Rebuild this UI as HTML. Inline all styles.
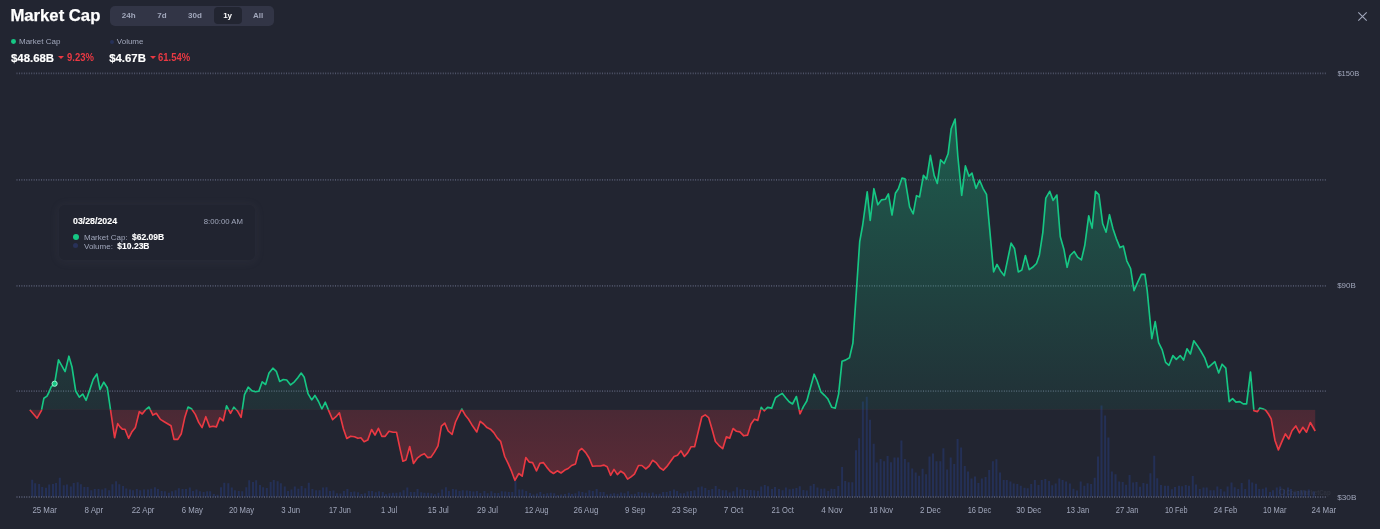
<!DOCTYPE html>
<html><head><meta charset="utf-8"><title>Market Cap</title>
<style>
*{box-sizing:border-box;margin:0;padding:0}
html,body{width:1380px;height:529px;overflow:hidden;background:#222531;}
body{position:relative;font-family:"Liberation Sans",Arial,sans-serif;color:#fff;}
.chart{position:absolute;left:0;top:0;}
.chart text{font-family:"Liberation Sans",Arial,sans-serif;}
.title{position:absolute;left:10.4px;top:5.5px;-webkit-text-stroke:0.25px #fff;font-size:16.7px;font-weight:700;line-height:20px;color:#fff;letter-spacing:0;}
.tabs{position:absolute;left:110px;top:5.5px;width:164px;height:20.5px;background:#323546;border-radius:5px;}
.tab{position:absolute;top:0;height:20.5px;line-height:20.5px;font-size:8px;font-weight:700;color:#a1a7bb;text-align:center;transform:translateX(-50%);}
.tab.on{background:#222531;color:#fff;width:28px;height:17px;line-height:17px;top:1.6px;border-radius:4px;}
.close{position:absolute;left:1357px;top:11px;width:11px;height:11px;}
.leg{position:absolute;font-size:8px;color:#a1a7bb;line-height:10px;}
.dot{position:absolute;width:5px;height:5px;border-radius:50%;}
.val{position:absolute;font-size:11.4px;font-weight:700;color:#fff;-webkit-text-stroke:0.15px #fff;line-height:14px;transform-origin:0 50%;}
.pct{position:absolute;font-size:10.2px;font-weight:700;color:#ea3943;line-height:12px;transform-origin:0 50%;transform:scaleX(0.93);}
.tri{position:absolute;width:0;height:0;border-left:3.1px solid transparent;border-right:3.1px solid transparent;border-top:3.4px solid #ea3943;}
.tip{position:absolute;left:59px;top:205px;width:196px;height:55px;border-radius:6px;background:#212430;box-shadow:0 1px 10px 2px rgba(128,138,157,0.065);}
.tip .d{position:absolute;left:14px;top:10px;font-size:8.8px;font-weight:700;color:#fff;line-height:12px;-webkit-text-stroke:0.12px #fff;}
.tip .t{position:absolute;right:12px;top:11px;font-size:7.75px;color:#a1a7bb;line-height:11px;}
.tip .r{position:absolute;left:25px;font-size:8px;color:#a1a7bb;line-height:10px;white-space:nowrap;}
.tip .r b{color:#fff;font-size:8.5px;-webkit-text-stroke:0.12px #fff;}
</style></head><body>
<svg class="chart" width="1380" height="529" viewBox="0 0 1380 529">
<defs>
<linearGradient id="gg" gradientUnits="userSpaceOnUse" x1="0" y1="119" x2="0" y2="409.7">
<stop offset="0" stop-color="#16c784" stop-opacity="0.34"/>
<stop offset="1" stop-color="#16c784" stop-opacity="0.07"/>
</linearGradient>
<linearGradient id="rg" gradientUnits="userSpaceOnUse" x1="0" y1="409.7" x2="0" y2="481">
<stop offset="0" stop-color="#ea3943" stop-opacity="0.2"/>
<stop offset="1" stop-color="#ea3943" stop-opacity="0.29"/>
</linearGradient>
<clipPath id="up"><rect x="0" y="0" width="1380" height="409.7"/></clipPath>
<clipPath id="dn"><rect x="0" y="409.7" width="1380" height="119.30000000000001"/></clipPath>
</defs>
<path d="M31.19,497V479.8h2V497zM34.16,497V483.2h2V497zM38.12,497V483.9h2V497zM41.19,497V487.1h2V497zM45.01,497V487.8h2V497zM48.17,497V484.5h2V497zM51.98,497V483.9h2V497zM55.04,497V483.1h2V497zM58.83,497V477.7h2V497zM62.74,497V485.2h2V497zM65.96,497V484.5h2V497zM69.87,497V486.5h2V497zM72.74,497V482.9h2V497zM76.65,497V482.2h2V497zM79.87,497V484.3h2V497zM83.35,497V487.1h2V497zM86.65,497V487.1h2V497zM90.30,497V490.3h2V497zM93.78,497V489.0h2V497zM97.52,497V489.0h2V497zM101.17,497V489.6h2V497zM104.39,497V488.3h2V497zM108.13,497V490.3h2V497zM111.43,497V484.3h2V497zM115.09,497V481.3h2V497zM118.30,497V484.3h2V497zM122.04,497V485.9h2V497zM125.26,497V488.4h2V497zM129.00,497V489.6h2V497zM132.04,497V490.3h2V497zM135.85,497V489.0h2V497zM139.22,497V490.3h2V497zM143.04,497V489.4h2V497zM146.99,497V489.4h2V497zM150.23,497V488.8h2V497zM153.94,497V487.2h2V497zM156.96,497V489.1h2V497zM160.67,497V490.9h2V497zM163.91,497V491.2h2V497zM167.86,497V492.8h2V497zM171.10,497V491.2h2V497zM174.58,497V490.3h2V497zM177.83,497V488.3h2V497zM181.54,497V489.1h2V497zM185.01,497V489.1h2V497zM188.84,497V487.4h2V497zM191.97,497V490.9h2V497zM195.45,497V489.4h2V497zM198.93,497V491.2h2V497zM202.64,497V492.0h2V497zM206.12,497V491.2h2V497zM209.13,497V491.2h2V497zM212.84,497V494.1h2V497zM216.55,497V494.7h2V497zM220.03,497V487.2h2V497zM223.28,497V482.8h2V497zM227.33,497V483.3h2V497zM230.81,497V487.4h2V497zM233.94,497V490.3h2V497zM237.77,497V490.9h2V497zM241.25,497V491.2h2V497zM245.30,497V487.2h2V497zM248.20,497V480.2h2V497zM252.03,497V481.9h2V497zM255.16,497V480.2h2V497zM258.99,497V485.1h2V497zM262.12,497V487.2h2V497zM265.83,497V488.0h2V497zM269.65,497V481.9h2V497zM272.78,497V479.9h2V497zM276.61,497V481.2h2V497zM279.86,497V483.3h2V497zM283.80,497V486.6h2V497zM287.04,497V490.9h2V497zM290.46,497V489.4h2V497zM293.82,497V486.6h2V497zM297.35,497V488.8h2V497zM300.59,497V485.9h2V497zM304.30,497V488.2h2V497zM307.78,497V482.8h2V497zM311.38,497V489.1h2V497zM315.09,497V490.3h2V497zM318.57,497V490.3h2V497zM322.04,497V487.6h2V497zM325.52,497V487.2h2V497zM329.00,497V490.9h2V497zM332.48,497V490.5h2V497zM335.96,497V493.2h2V497zM339.43,497V493.5h2V497zM342.91,497V490.9h2V497zM346.39,497V489.1h2V497zM350.10,497V492.0h2V497zM353.35,497V491.4h2V497zM357.06,497V492.3h2V497zM360.54,497V494.1h2V497zM364.01,497V493.2h2V497zM367.84,497V490.9h2V497zM371.09,497V490.9h2V497zM374.80,497V492.3h2V497zM378.04,497V491.2h2V497zM381.75,497V492.0h2V497zM385.00,497V494.3h2V497zM388.48,497V493.2h2V497zM391.96,497V492.8h2V497zM395.43,497V492.8h2V497zM399.14,497V492.3h2V497zM402.62,497V490.3h2V497zM406.33,497V487.6h2V497zM409.81,497V492.0h2V497zM413.29,497V492.0h2V497zM416.54,497V489.1h2V497zM420.25,497V492.3h2V497zM423.49,497V492.8h2V497zM426.97,497V492.8h2V497zM430.45,497V493.2h2V497zM433.93,497V494.3h2V497zM437.41,497V492.8h2V497zM441.12,497V489.5h2V497zM444.93,497V487.3h2V497zM447.95,497V490.9h2V497zM451.88,497V489.1h2V497zM455.01,497V489.5h2V497zM458.49,497V490.9h2V497zM461.74,497V490.3h2V497zM465.80,497V490.6h2V497zM468.93,497V491.1h2V497zM472.41,497V491.4h2V497zM475.88,497V490.9h2V497zM479.36,497V493.0h2V497zM483.42,497V491.1h2V497zM486.67,497V493.2h2V497zM490.38,497V491.2h2V497zM493.86,497V493.0h2V497zM497.33,497V493.0h2V497zM500.81,497V491.2h2V497zM504.29,497V491.4h2V497zM507.77,497V492.0h2V497zM511.25,497V492.0h2V497zM514.49,497V481.0h2V497zM518.20,497V489.5h2V497zM521.45,497V489.4h2V497zM525.16,497V490.9h2V497zM528.99,497V493.0h2V497zM532.35,497V494.6h2V497zM535.94,497V493.5h2V497zM539.30,497V492.0h2V497zM542.78,497V494.1h2V497zM546.26,497V493.2h2V497zM549.74,497V492.8h2V497zM553.22,497V493.2h2V497zM556.70,497V494.9h2V497zM560.17,497V494.6h2V497zM564.00,497V494.1h2V497zM567.83,497V492.8h2V497zM570.96,497V494.1h2V497zM574.43,497V493.2h2V497zM577.91,497V491.2h2V497zM581.39,497V492.0h2V497zM584.87,497V492.8h2V497zM588.35,497V490.3h2V497zM591.83,497V490.9h2V497zM595.65,497V489.1h2V497zM599.36,497V492.0h2V497zM602.66,497V492.0h2V497zM605.96,497V494.6h2V497zM609.67,497V493.8h2V497zM613.14,497V493.2h2V497zM616.62,497V493.8h2V497zM620.10,497V492.6h2V497zM623.58,497V493.2h2V497zM627.06,497V491.2h2V497zM630.54,497V494.3h2V497zM634.01,497V493.8h2V497zM637.49,497V492.0h2V497zM640.97,497V492.6h2V497zM644.45,497V492.6h2V497zM647.93,497V493.2h2V497zM651.75,497V492.6h2V497zM655.23,497V494.3h2V497zM658.71,497V493.8h2V497zM662.19,497V492.0h2V497zM665.67,497V492.0h2V497zM669.14,497V491.1h2V497zM672.97,497V489.5h2V497zM676.10,497V491.1h2V497zM679.58,497V493.2h2V497zM683.06,497V493.2h2V497zM686.54,497V491.4h2V497zM690.01,497V490.9h2V497zM693.49,497V490.3h2V497zM697.32,497V487.2h2V497zM700.80,497V486.6h2V497zM704.28,497V488.0h2V497zM707.75,497V490.1h2V497zM711.23,497V488.9h2V497zM714.71,497V485.9h2V497zM718.19,497V488.9h2V497zM721.67,497V490.3h2V497zM725.14,497V490.3h2V497zM728.62,497V492.6h2V497zM732.33,497V491.2h2V497zM736.04,497V487.2h2V497zM739.52,497V489.5h2V497zM743.00,497V489.1h2V497zM746.25,497V490.1h2V497zM749.72,497V490.1h2V497zM753.20,497V490.3h2V497zM756.96,497V490.7h2V497zM760.20,497V486.5h2V497zM763.80,497V485.0h2V497zM767.00,497V486.3h2V497zM771.00,497V489.0h2V497zM774.00,497V487.0h2V497zM778.00,497V489.1h2V497zM781.60,497V490.2h2V497zM784.90,497V487.4h2V497zM788.60,497V489.3h2V497zM792.00,497V488.7h2V497zM795.40,497V488.1h2V497zM798.80,497V486.3h2V497zM802.40,497V490.1h2V497zM805.80,497V490.6h2V497zM809.60,497V485.7h2V497zM812.80,497V484.0h2V497zM816.40,497V487.4h2V497zM820.20,497V488.7h2V497zM823.40,497V488.4h2V497zM827.20,497V491.0h2V497zM830.40,497V488.7h2V497zM833.40,497V489.1h2V497zM837.30,497V486.1h2V497zM841.10,497V467.0h2V497zM844.20,497V481.0h2V497zM847.70,497V482.2h2V497zM851.30,497V482.2h2V497zM855.00,497V450.3h2V497zM858.10,497V438.3h2V497zM861.90,497V401.4h2V497zM865.80,497V396.7h2V497zM869.00,497V419.8h2V497zM872.70,497V443.7h2V497zM875.80,497V462.4h2V497zM879.60,497V459.1h2V497zM883.10,497V461.2h2V497zM886.60,497V456.0h2V497zM890.00,497V462.2h2V497zM893.50,497V457.6h2V497zM897.00,497V457.6h2V497zM900.40,497V440.4h2V497zM903.90,497V459.1h2V497zM907.40,497V462.2h2V497zM911.20,497V468.4h2V497zM914.70,497V472.6h2V497zM918.10,497V475.7h2V497zM921.60,497V468.7h2V497zM925.10,497V474.3h2V497zM928.50,497V456.6h2V497zM932.00,497V453.5h2V497zM935.50,497V461.2h2V497zM939.30,497V461.2h2V497zM942.40,497V448.3h2V497zM946.10,497V469.5h2V497zM949.70,497V457.6h2V497zM953.20,497V463.9h2V497zM956.60,497V438.9h2V497zM960.10,497V447.6h2V497zM963.80,497V465.9h2V497zM967.00,497V471.6h2V497zM970.50,497V478.4h2V497zM974.00,497V476.4h2V497zM977.40,497V483.0h2V497zM980.90,497V478.4h2V497zM984.60,497V477.0h2V497zM988.20,497V470.1h2V497zM991.90,497V461.2h2V497zM995.40,497V459.3h2V497zM999.00,497V472.6h2V497zM1002.70,497V479.9h2V497zM1005.80,497V479.9h2V497zM1009.40,497V481.6h2V497zM1012.70,497V483.6h2V497zM1016.30,497V484.0h2V497zM1019.80,497V485.7h2V497zM1023.50,497V487.8h2V497zM1026.70,497V488.2h2V497zM1030.20,497V484.0h2V497zM1033.90,497V479.9h2V497zM1037.50,497V485.1h2V497zM1040.80,497V480.1h2V497zM1044.30,497V479.1h2V497zM1048.10,497V481.1h2V497zM1051.20,497V485.3h2V497zM1054.70,497V483.6h2V497zM1058.30,497V478.4h2V497zM1061.60,497V480.1h2V497zM1065.10,497V481.6h2V497zM1068.90,497V483.6h2V497zM1072.40,497V488.8h2V497zM1076.00,497V490.5h2V497zM1079.70,497V481.6h2V497zM1083.30,497V485.7h2V497zM1086.60,497V483.2h2V497zM1090.10,497V484.0h2V497zM1093.70,497V477.8h2V497zM1097.00,497V456.6h2V497zM1100.50,497V405.6h2V497zM1104.10,497V415.4h2V497zM1107.40,497V437.4h2V497zM1110.90,497V471.6h2V497zM1114.50,497V474.3h2V497zM1118.20,497V481.6h2V497zM1121.70,497V482.0h2V497zM1125.10,497V484.7h2V497zM1128.60,497V474.9h2V497zM1132.10,497V482.6h2V497zM1135.50,497V482.0h2V497zM1139.00,497V486.8h2V497zM1142.40,497V483.1h2V497zM1146.00,497V483.8h2V497zM1149.40,497V473.2h2V497zM1153.20,497V455.8h2V497zM1156.20,497V478.2h2V497zM1160.00,497V485.0h2V497zM1164.00,497V485.7h2V497zM1167.10,497V485.7h2V497zM1170.90,497V489.3h2V497zM1174.00,497V487.0h2V497zM1178.00,497V485.7h2V497zM1181.10,497V486.3h2V497zM1184.80,497V485.0h2V497zM1188.00,497V485.7h2V497zM1191.80,497V476.0h2V497zM1195.00,497V484.4h2V497zM1198.80,497V489.0h2V497zM1202.50,497V487.4h2V497zM1205.70,497V487.4h2V497zM1209.50,497V490.3h2V497zM1212.80,497V490.3h2V497zM1216.30,497V486.5h2V497zM1219.80,497V489.0h2V497zM1223.30,497V491.4h2V497zM1226.60,497V486.5h2V497zM1230.50,497V482.5h2V497zM1233.70,497V487.2h2V497zM1237.20,497V489.1h2V497zM1240.70,497V483.1h2V497zM1244.20,497V489.1h2V497zM1248.10,497V479.5h2V497zM1251.20,497V482.5h2V497zM1255.00,497V483.8h2V497zM1258.20,497V489.0h2V497zM1261.80,497V488.7h2V497zM1265.00,497V487.6h2V497zM1269.00,497V492.1h2V497zM1272.00,497V490.3h2V497zM1275.80,497V487.6h2V497zM1279.20,497V486.5h2V497zM1283.00,497V489.5h2V497zM1287.00,497V487.6h2V497zM1290.00,497V489.0h2V497zM1293.80,497V491.8h2V497zM1297.20,497V491.0h2V497zM1300.60,497V490.3h2V497zM1304.00,497V490.6h2V497zM1307.80,497V489.5h2V497zM1312.80,497V491.4h2V497z" fill="#243056"/>
<g class="grid" stroke="#50556a" stroke-width="1.8" stroke-dasharray="1 1.45"><line x1="16.5" y1="73.4" x2="1327" y2="73.4"/><line x1="16.5" y1="179.8" x2="1327" y2="179.8"/><line x1="16.5" y1="285.8" x2="1327" y2="285.8"/><line x1="16.5" y1="391.2" x2="1327" y2="391.2"/><line x1="16.5" y1="497" x2="1327" y2="497"/></g>
<path d="M29.8,409.7 L29.8,409.7 L37.1,418.2 L41.4,410.7 L43.9,398.2 L47,396.1 L49.1,392 L51.2,386.8 L54.6,383.7 L58.5,359.8 L65.1,371.6 L68.9,356.2 L72,367 L75.7,391 L79.3,397.2 L82.8,394.1 L86.1,400.3 L89.7,390 L93.2,379.5 L96.9,373.9 L100,389.5 L103.8,382.2 L107.3,387.8 L110.5,409.7 L114.6,437.7 L117.7,423.6 L120,426.9 L122.3,429.2 L125,429.2 L128.6,438.3 L131.8,432.1 L135.4,427.4 L139.3,411.7 L142.2,414 L145.4,409.9 L149,407 L152.9,415.1 L156.3,413.3 L160.4,419.4 L164.2,421.7 L171,425.8 L174,439.4 L177.8,439.4 L181.3,433.7 L184.7,417.8 L188.1,407 L191.5,408.8 L195.3,414.4 L198.7,422.4 L202.1,427.6 L205.8,416.7 L209.6,426.9 L213,426.2 L216.4,426.9 L219.8,417.8 L223.2,420.8 L226.6,405.8 L230.5,413.3 L233.9,407.2 L237.7,411.3 L241.1,417.4 L244.5,394.7 L248.2,387.2 L252,390.8 L255.4,391.8 L258.8,391.3 L262.2,381.8 L265.6,384.5 L269,373.1 L272.9,368.2 L276.3,371.3 L279.7,381.5 L283.3,379.5 L286.7,380 L290.6,384.9 L294.4,381.8 L297.8,377.7 L301.2,373.1 L304.2,377.2 L308,393.6 L311.7,399.9 L314.9,395.4 L318.5,401.5 L321.9,409 L325.3,402.2 L328.7,410.6 L332.6,419.7 L336,416.7 L339.4,412.8 L343.4,428.7 L346.8,438.5 L350.7,436.2 L354.5,436.7 L357.9,438.3 L360.9,437.8 L364.1,441.7 L367.7,440.1 L371.6,429.5 L375,435.1 L378.4,428.3 L381.8,436.3 L385.2,436.3 L389,431.3 L393.1,432.2 L396.5,432.2 L399.9,448.1 L402.9,461.2 L406,459.9 L409.7,446.5 L413.5,463.5 L417.6,457.8 L421.5,454.9 L424.4,453.7 L427.6,457.6 L431,457.1 L434.4,452.1 L438,445.8 L441.4,426.1 L444.8,423.1 L448.2,431 L452.1,434.4 L455.5,422 L461.8,409 L465.7,415.8 L468.4,419 L471.8,424.7 L476.8,432 L480.2,421.3 L483.6,424 L487,427.6 L490.4,429.2 L493.8,432.6 L497.2,437.9 L500.6,441.3 L504.7,456.5 L508.1,463.3 L511.5,471.2 L514.9,480.3 L518.8,473.5 L522.2,476.2 L525.8,457.6 L529.2,462.1 L532.6,462.6 L536.5,470.8 L539.9,463.3 L543.3,462.6 L546.7,467.1 L550.1,471.2 L553.5,473.5 L557.3,470.8 L561,473 L564.8,470.1 L568.2,468.5 L571.6,465.5 L575.5,463.9 L578.9,450.8 L581.8,448.5 L585.7,452.6 L589.1,458 L592.5,466.2 L596.3,466 L600.4,466 L603.8,465.1 L607.2,466.7 L610.6,475.3 L614,469.4 L617.4,474.6 L620.8,471.2 L624.2,473.5 L627.6,479.1 L631,476.9 L634.4,474.2 L638.5,465.5 L641.9,465.5 L645.8,468.9 L649.2,466 L652.6,460.3 L656,462.6 L659.9,467.8 L663.3,470.1 L666.7,466.7 L670.3,461.7 L674.1,456.5 L677.5,455.3 L681,450.8 L684.4,456.5 L687.8,452.6 L691.2,446.7 L694.6,446.7 L701.8,417 L705.2,414.9 L708.6,417.6 L712,429 L715.4,441.5 L718.8,445.3 L722.7,448.7 L726.3,436.9 L729.7,438.1 L733.1,428.5 L736.5,431.3 L739.9,431.9 L743.8,435.8 L747.6,435.1 L751,424 L754.4,419.2 L757.8,420.4 L761.2,407.4 L764.2,410.8 L767.6,407.4 L771.7,408.1 L775.5,397.7 L778.9,395.4 L782.3,393.4 L785.7,397.7 L789.1,401.8 L792.5,404 L796.4,396.5 L800,413.8 L803.4,406.6 L806.8,401 L810.2,388.5 L814.1,374.2 L817,380.5 L820.9,391.9 L824.5,395.3 L827.7,398.7 L831.8,407.3 L835.2,408.2 L838.6,394.1 L842,361.3 L845.4,360.1 L849.5,357.8 L852.9,343.1 L859.7,241.7 L862.7,225 L867.2,191.8 L870.2,220.5 L873.9,188.7 L877.8,204.8 L881.4,199.9 L885.4,199.3 L888.4,193.9 L892,215 L895.4,193.3 L898.4,188.7 L902,178.1 L905,178.8 L909.6,206.9 L913.2,213.8 L916.5,195.7 L919.6,196.9 L923.4,175.4 L926.7,179.1 L930.4,155.4 L934.2,175.6 L937.3,183.4 L940.6,159.9 L944.2,163.5 L948.1,153.8 L951.2,128.7 L955.1,119.1 L957.8,156 L961.7,195.3 L965.4,165.9 L969,176.2 L972,173.2 L976,188.3 L979.6,180.2 L983,188.3 L986.5,194.4 L993.6,271.9 L997,264.4 L1000.4,270.7 L1004.3,275.7 L1007.7,259.4 L1011.1,243.1 L1014.5,248.5 L1018.3,271.9 L1021.8,270.1 L1025.4,255.5 L1029.2,269.6 L1032.6,267.3 L1036.5,263.5 L1039.4,254.9 L1042.8,232.6 L1045.8,198.1 L1049.7,191.3 L1053.1,200.4 L1056.9,195 L1060.3,236.7 L1063.9,249.2 L1067.1,267.3 L1070.1,255.5 L1074.2,251.5 L1077.6,257.1 L1081.4,259.9 L1084.8,245.3 L1088.7,215.8 L1092.1,228.1 L1095.5,191.3 L1098.9,194.7 L1102.7,223.8 L1106.1,232.2 L1109.5,214.7 L1112.9,228.4 L1116.3,238.6 L1120,247.6 L1123.4,246.1 L1126.8,260.8 L1130.6,268.5 L1134,290.7 L1137.4,282.8 L1141.5,274.2 L1144.9,274.4 L1147.2,290.7 L1151.8,338.6 L1155.2,321.6 L1158.6,342.6 L1162.2,349.9 L1165.6,362.4 L1169,365.3 L1172.9,355.6 L1176.3,359.4 L1180.2,355.6 L1183.6,360.1 L1187,348.8 L1190.4,354 L1193.8,340.8 L1197.2,345.4 L1200.8,351 L1204.7,357.8 L1208.1,367.6 L1211.5,364.7 L1214.9,361.7 L1218.7,373 L1222.1,364.2 L1225.8,368.1 L1229.2,401.6 L1232.6,398.7 L1236,402.1 L1239.8,401.6 L1243.2,403.9 L1246.6,403.9 L1250.5,372.1 L1253.9,410.7 L1257.5,411.6 L1259.8,408 L1262.7,408.7 L1265.5,409.9 L1268.4,414 L1271.2,418.8 L1275,440.5 L1278.4,449.9 L1282,441.4 L1285.4,433.9 L1288.8,439 L1292,430.7 L1295.8,425.9 L1299.5,432.9 L1302.9,427.3 L1306.5,432.2 L1310.3,422.5 L1315.2,431 L1315.2,409.7 Z" fill="url(#gg)" clip-path="url(#up)"/>
<path d="M29.8,409.7 L29.8,409.7 L37.1,418.2 L41.4,410.7 L43.9,398.2 L47,396.1 L49.1,392 L51.2,386.8 L54.6,383.7 L58.5,359.8 L65.1,371.6 L68.9,356.2 L72,367 L75.7,391 L79.3,397.2 L82.8,394.1 L86.1,400.3 L89.7,390 L93.2,379.5 L96.9,373.9 L100,389.5 L103.8,382.2 L107.3,387.8 L110.5,409.7 L114.6,437.7 L117.7,423.6 L120,426.9 L122.3,429.2 L125,429.2 L128.6,438.3 L131.8,432.1 L135.4,427.4 L139.3,411.7 L142.2,414 L145.4,409.9 L149,407 L152.9,415.1 L156.3,413.3 L160.4,419.4 L164.2,421.7 L171,425.8 L174,439.4 L177.8,439.4 L181.3,433.7 L184.7,417.8 L188.1,407 L191.5,408.8 L195.3,414.4 L198.7,422.4 L202.1,427.6 L205.8,416.7 L209.6,426.9 L213,426.2 L216.4,426.9 L219.8,417.8 L223.2,420.8 L226.6,405.8 L230.5,413.3 L233.9,407.2 L237.7,411.3 L241.1,417.4 L244.5,394.7 L248.2,387.2 L252,390.8 L255.4,391.8 L258.8,391.3 L262.2,381.8 L265.6,384.5 L269,373.1 L272.9,368.2 L276.3,371.3 L279.7,381.5 L283.3,379.5 L286.7,380 L290.6,384.9 L294.4,381.8 L297.8,377.7 L301.2,373.1 L304.2,377.2 L308,393.6 L311.7,399.9 L314.9,395.4 L318.5,401.5 L321.9,409 L325.3,402.2 L328.7,410.6 L332.6,419.7 L336,416.7 L339.4,412.8 L343.4,428.7 L346.8,438.5 L350.7,436.2 L354.5,436.7 L357.9,438.3 L360.9,437.8 L364.1,441.7 L367.7,440.1 L371.6,429.5 L375,435.1 L378.4,428.3 L381.8,436.3 L385.2,436.3 L389,431.3 L393.1,432.2 L396.5,432.2 L399.9,448.1 L402.9,461.2 L406,459.9 L409.7,446.5 L413.5,463.5 L417.6,457.8 L421.5,454.9 L424.4,453.7 L427.6,457.6 L431,457.1 L434.4,452.1 L438,445.8 L441.4,426.1 L444.8,423.1 L448.2,431 L452.1,434.4 L455.5,422 L461.8,409 L465.7,415.8 L468.4,419 L471.8,424.7 L476.8,432 L480.2,421.3 L483.6,424 L487,427.6 L490.4,429.2 L493.8,432.6 L497.2,437.9 L500.6,441.3 L504.7,456.5 L508.1,463.3 L511.5,471.2 L514.9,480.3 L518.8,473.5 L522.2,476.2 L525.8,457.6 L529.2,462.1 L532.6,462.6 L536.5,470.8 L539.9,463.3 L543.3,462.6 L546.7,467.1 L550.1,471.2 L553.5,473.5 L557.3,470.8 L561,473 L564.8,470.1 L568.2,468.5 L571.6,465.5 L575.5,463.9 L578.9,450.8 L581.8,448.5 L585.7,452.6 L589.1,458 L592.5,466.2 L596.3,466 L600.4,466 L603.8,465.1 L607.2,466.7 L610.6,475.3 L614,469.4 L617.4,474.6 L620.8,471.2 L624.2,473.5 L627.6,479.1 L631,476.9 L634.4,474.2 L638.5,465.5 L641.9,465.5 L645.8,468.9 L649.2,466 L652.6,460.3 L656,462.6 L659.9,467.8 L663.3,470.1 L666.7,466.7 L670.3,461.7 L674.1,456.5 L677.5,455.3 L681,450.8 L684.4,456.5 L687.8,452.6 L691.2,446.7 L694.6,446.7 L701.8,417 L705.2,414.9 L708.6,417.6 L712,429 L715.4,441.5 L718.8,445.3 L722.7,448.7 L726.3,436.9 L729.7,438.1 L733.1,428.5 L736.5,431.3 L739.9,431.9 L743.8,435.8 L747.6,435.1 L751,424 L754.4,419.2 L757.8,420.4 L761.2,407.4 L764.2,410.8 L767.6,407.4 L771.7,408.1 L775.5,397.7 L778.9,395.4 L782.3,393.4 L785.7,397.7 L789.1,401.8 L792.5,404 L796.4,396.5 L800,413.8 L803.4,406.6 L806.8,401 L810.2,388.5 L814.1,374.2 L817,380.5 L820.9,391.9 L824.5,395.3 L827.7,398.7 L831.8,407.3 L835.2,408.2 L838.6,394.1 L842,361.3 L845.4,360.1 L849.5,357.8 L852.9,343.1 L859.7,241.7 L862.7,225 L867.2,191.8 L870.2,220.5 L873.9,188.7 L877.8,204.8 L881.4,199.9 L885.4,199.3 L888.4,193.9 L892,215 L895.4,193.3 L898.4,188.7 L902,178.1 L905,178.8 L909.6,206.9 L913.2,213.8 L916.5,195.7 L919.6,196.9 L923.4,175.4 L926.7,179.1 L930.4,155.4 L934.2,175.6 L937.3,183.4 L940.6,159.9 L944.2,163.5 L948.1,153.8 L951.2,128.7 L955.1,119.1 L957.8,156 L961.7,195.3 L965.4,165.9 L969,176.2 L972,173.2 L976,188.3 L979.6,180.2 L983,188.3 L986.5,194.4 L993.6,271.9 L997,264.4 L1000.4,270.7 L1004.3,275.7 L1007.7,259.4 L1011.1,243.1 L1014.5,248.5 L1018.3,271.9 L1021.8,270.1 L1025.4,255.5 L1029.2,269.6 L1032.6,267.3 L1036.5,263.5 L1039.4,254.9 L1042.8,232.6 L1045.8,198.1 L1049.7,191.3 L1053.1,200.4 L1056.9,195 L1060.3,236.7 L1063.9,249.2 L1067.1,267.3 L1070.1,255.5 L1074.2,251.5 L1077.6,257.1 L1081.4,259.9 L1084.8,245.3 L1088.7,215.8 L1092.1,228.1 L1095.5,191.3 L1098.9,194.7 L1102.7,223.8 L1106.1,232.2 L1109.5,214.7 L1112.9,228.4 L1116.3,238.6 L1120,247.6 L1123.4,246.1 L1126.8,260.8 L1130.6,268.5 L1134,290.7 L1137.4,282.8 L1141.5,274.2 L1144.9,274.4 L1147.2,290.7 L1151.8,338.6 L1155.2,321.6 L1158.6,342.6 L1162.2,349.9 L1165.6,362.4 L1169,365.3 L1172.9,355.6 L1176.3,359.4 L1180.2,355.6 L1183.6,360.1 L1187,348.8 L1190.4,354 L1193.8,340.8 L1197.2,345.4 L1200.8,351 L1204.7,357.8 L1208.1,367.6 L1211.5,364.7 L1214.9,361.7 L1218.7,373 L1222.1,364.2 L1225.8,368.1 L1229.2,401.6 L1232.6,398.7 L1236,402.1 L1239.8,401.6 L1243.2,403.9 L1246.6,403.9 L1250.5,372.1 L1253.9,410.7 L1257.5,411.6 L1259.8,408 L1262.7,408.7 L1265.5,409.9 L1268.4,414 L1271.2,418.8 L1275,440.5 L1278.4,449.9 L1282,441.4 L1285.4,433.9 L1288.8,439 L1292,430.7 L1295.8,425.9 L1299.5,432.9 L1302.9,427.3 L1306.5,432.2 L1310.3,422.5 L1315.2,431 L1315.2,409.7 Z" fill="url(#rg)" clip-path="url(#dn)"/>
<polyline points="29.8,409.7 37.1,418.2 41.4,410.7 43.9,398.2 47,396.1 49.1,392 51.2,386.8 54.6,383.7 58.5,359.8 65.1,371.6 68.9,356.2 72,367 75.7,391 79.3,397.2 82.8,394.1 86.1,400.3 89.7,390 93.2,379.5 96.9,373.9 100,389.5 103.8,382.2 107.3,387.8 110.5,409.7 114.6,437.7 117.7,423.6 120,426.9 122.3,429.2 125,429.2 128.6,438.3 131.8,432.1 135.4,427.4 139.3,411.7 142.2,414 145.4,409.9 149,407 152.9,415.1 156.3,413.3 160.4,419.4 164.2,421.7 171,425.8 174,439.4 177.8,439.4 181.3,433.7 184.7,417.8 188.1,407 191.5,408.8 195.3,414.4 198.7,422.4 202.1,427.6 205.8,416.7 209.6,426.9 213,426.2 216.4,426.9 219.8,417.8 223.2,420.8 226.6,405.8 230.5,413.3 233.9,407.2 237.7,411.3 241.1,417.4 244.5,394.7 248.2,387.2 252,390.8 255.4,391.8 258.8,391.3 262.2,381.8 265.6,384.5 269,373.1 272.9,368.2 276.3,371.3 279.7,381.5 283.3,379.5 286.7,380 290.6,384.9 294.4,381.8 297.8,377.7 301.2,373.1 304.2,377.2 308,393.6 311.7,399.9 314.9,395.4 318.5,401.5 321.9,409 325.3,402.2 328.7,410.6 332.6,419.7 336,416.7 339.4,412.8 343.4,428.7 346.8,438.5 350.7,436.2 354.5,436.7 357.9,438.3 360.9,437.8 364.1,441.7 367.7,440.1 371.6,429.5 375,435.1 378.4,428.3 381.8,436.3 385.2,436.3 389,431.3 393.1,432.2 396.5,432.2 399.9,448.1 402.9,461.2 406,459.9 409.7,446.5 413.5,463.5 417.6,457.8 421.5,454.9 424.4,453.7 427.6,457.6 431,457.1 434.4,452.1 438,445.8 441.4,426.1 444.8,423.1 448.2,431 452.1,434.4 455.5,422 461.8,409 465.7,415.8 468.4,419 471.8,424.7 476.8,432 480.2,421.3 483.6,424 487,427.6 490.4,429.2 493.8,432.6 497.2,437.9 500.6,441.3 504.7,456.5 508.1,463.3 511.5,471.2 514.9,480.3 518.8,473.5 522.2,476.2 525.8,457.6 529.2,462.1 532.6,462.6 536.5,470.8 539.9,463.3 543.3,462.6 546.7,467.1 550.1,471.2 553.5,473.5 557.3,470.8 561,473 564.8,470.1 568.2,468.5 571.6,465.5 575.5,463.9 578.9,450.8 581.8,448.5 585.7,452.6 589.1,458 592.5,466.2 596.3,466 600.4,466 603.8,465.1 607.2,466.7 610.6,475.3 614,469.4 617.4,474.6 620.8,471.2 624.2,473.5 627.6,479.1 631,476.9 634.4,474.2 638.5,465.5 641.9,465.5 645.8,468.9 649.2,466 652.6,460.3 656,462.6 659.9,467.8 663.3,470.1 666.7,466.7 670.3,461.7 674.1,456.5 677.5,455.3 681,450.8 684.4,456.5 687.8,452.6 691.2,446.7 694.6,446.7 701.8,417 705.2,414.9 708.6,417.6 712,429 715.4,441.5 718.8,445.3 722.7,448.7 726.3,436.9 729.7,438.1 733.1,428.5 736.5,431.3 739.9,431.9 743.8,435.8 747.6,435.1 751,424 754.4,419.2 757.8,420.4 761.2,407.4 764.2,410.8 767.6,407.4 771.7,408.1 775.5,397.7 778.9,395.4 782.3,393.4 785.7,397.7 789.1,401.8 792.5,404 796.4,396.5 800,413.8 803.4,406.6 806.8,401 810.2,388.5 814.1,374.2 817,380.5 820.9,391.9 824.5,395.3 827.7,398.7 831.8,407.3 835.2,408.2 838.6,394.1 842,361.3 845.4,360.1 849.5,357.8 852.9,343.1 859.7,241.7 862.7,225 867.2,191.8 870.2,220.5 873.9,188.7 877.8,204.8 881.4,199.9 885.4,199.3 888.4,193.9 892,215 895.4,193.3 898.4,188.7 902,178.1 905,178.8 909.6,206.9 913.2,213.8 916.5,195.7 919.6,196.9 923.4,175.4 926.7,179.1 930.4,155.4 934.2,175.6 937.3,183.4 940.6,159.9 944.2,163.5 948.1,153.8 951.2,128.7 955.1,119.1 957.8,156 961.7,195.3 965.4,165.9 969,176.2 972,173.2 976,188.3 979.6,180.2 983,188.3 986.5,194.4 993.6,271.9 997,264.4 1000.4,270.7 1004.3,275.7 1007.7,259.4 1011.1,243.1 1014.5,248.5 1018.3,271.9 1021.8,270.1 1025.4,255.5 1029.2,269.6 1032.6,267.3 1036.5,263.5 1039.4,254.9 1042.8,232.6 1045.8,198.1 1049.7,191.3 1053.1,200.4 1056.9,195 1060.3,236.7 1063.9,249.2 1067.1,267.3 1070.1,255.5 1074.2,251.5 1077.6,257.1 1081.4,259.9 1084.8,245.3 1088.7,215.8 1092.1,228.1 1095.5,191.3 1098.9,194.7 1102.7,223.8 1106.1,232.2 1109.5,214.7 1112.9,228.4 1116.3,238.6 1120,247.6 1123.4,246.1 1126.8,260.8 1130.6,268.5 1134,290.7 1137.4,282.8 1141.5,274.2 1144.9,274.4 1147.2,290.7 1151.8,338.6 1155.2,321.6 1158.6,342.6 1162.2,349.9 1165.6,362.4 1169,365.3 1172.9,355.6 1176.3,359.4 1180.2,355.6 1183.6,360.1 1187,348.8 1190.4,354 1193.8,340.8 1197.2,345.4 1200.8,351 1204.7,357.8 1208.1,367.6 1211.5,364.7 1214.9,361.7 1218.7,373 1222.1,364.2 1225.8,368.1 1229.2,401.6 1232.6,398.7 1236,402.1 1239.8,401.6 1243.2,403.9 1246.6,403.9 1250.5,372.1 1253.9,410.7 1257.5,411.6 1259.8,408 1262.7,408.7 1265.5,409.9 1268.4,414 1271.2,418.8 1275,440.5 1278.4,449.9 1282,441.4 1285.4,433.9 1288.8,439 1292,430.7 1295.8,425.9 1299.5,432.9 1302.9,427.3 1306.5,432.2 1310.3,422.5 1315.2,431" fill="none" stroke="#16c784" stroke-width="1.65" stroke-linejoin="round" clip-path="url(#up)"/>
<polyline points="29.8,409.7 37.1,418.2 41.4,410.7 43.9,398.2 47,396.1 49.1,392 51.2,386.8 54.6,383.7 58.5,359.8 65.1,371.6 68.9,356.2 72,367 75.7,391 79.3,397.2 82.8,394.1 86.1,400.3 89.7,390 93.2,379.5 96.9,373.9 100,389.5 103.8,382.2 107.3,387.8 110.5,409.7 114.6,437.7 117.7,423.6 120,426.9 122.3,429.2 125,429.2 128.6,438.3 131.8,432.1 135.4,427.4 139.3,411.7 142.2,414 145.4,409.9 149,407 152.9,415.1 156.3,413.3 160.4,419.4 164.2,421.7 171,425.8 174,439.4 177.8,439.4 181.3,433.7 184.7,417.8 188.1,407 191.5,408.8 195.3,414.4 198.7,422.4 202.1,427.6 205.8,416.7 209.6,426.9 213,426.2 216.4,426.9 219.8,417.8 223.2,420.8 226.6,405.8 230.5,413.3 233.9,407.2 237.7,411.3 241.1,417.4 244.5,394.7 248.2,387.2 252,390.8 255.4,391.8 258.8,391.3 262.2,381.8 265.6,384.5 269,373.1 272.9,368.2 276.3,371.3 279.7,381.5 283.3,379.5 286.7,380 290.6,384.9 294.4,381.8 297.8,377.7 301.2,373.1 304.2,377.2 308,393.6 311.7,399.9 314.9,395.4 318.5,401.5 321.9,409 325.3,402.2 328.7,410.6 332.6,419.7 336,416.7 339.4,412.8 343.4,428.7 346.8,438.5 350.7,436.2 354.5,436.7 357.9,438.3 360.9,437.8 364.1,441.7 367.7,440.1 371.6,429.5 375,435.1 378.4,428.3 381.8,436.3 385.2,436.3 389,431.3 393.1,432.2 396.5,432.2 399.9,448.1 402.9,461.2 406,459.9 409.7,446.5 413.5,463.5 417.6,457.8 421.5,454.9 424.4,453.7 427.6,457.6 431,457.1 434.4,452.1 438,445.8 441.4,426.1 444.8,423.1 448.2,431 452.1,434.4 455.5,422 461.8,409 465.7,415.8 468.4,419 471.8,424.7 476.8,432 480.2,421.3 483.6,424 487,427.6 490.4,429.2 493.8,432.6 497.2,437.9 500.6,441.3 504.7,456.5 508.1,463.3 511.5,471.2 514.9,480.3 518.8,473.5 522.2,476.2 525.8,457.6 529.2,462.1 532.6,462.6 536.5,470.8 539.9,463.3 543.3,462.6 546.7,467.1 550.1,471.2 553.5,473.5 557.3,470.8 561,473 564.8,470.1 568.2,468.5 571.6,465.5 575.5,463.9 578.9,450.8 581.8,448.5 585.7,452.6 589.1,458 592.5,466.2 596.3,466 600.4,466 603.8,465.1 607.2,466.7 610.6,475.3 614,469.4 617.4,474.6 620.8,471.2 624.2,473.5 627.6,479.1 631,476.9 634.4,474.2 638.5,465.5 641.9,465.5 645.8,468.9 649.2,466 652.6,460.3 656,462.6 659.9,467.8 663.3,470.1 666.7,466.7 670.3,461.7 674.1,456.5 677.5,455.3 681,450.8 684.4,456.5 687.8,452.6 691.2,446.7 694.6,446.7 701.8,417 705.2,414.9 708.6,417.6 712,429 715.4,441.5 718.8,445.3 722.7,448.7 726.3,436.9 729.7,438.1 733.1,428.5 736.5,431.3 739.9,431.9 743.8,435.8 747.6,435.1 751,424 754.4,419.2 757.8,420.4 761.2,407.4 764.2,410.8 767.6,407.4 771.7,408.1 775.5,397.7 778.9,395.4 782.3,393.4 785.7,397.7 789.1,401.8 792.5,404 796.4,396.5 800,413.8 803.4,406.6 806.8,401 810.2,388.5 814.1,374.2 817,380.5 820.9,391.9 824.5,395.3 827.7,398.7 831.8,407.3 835.2,408.2 838.6,394.1 842,361.3 845.4,360.1 849.5,357.8 852.9,343.1 859.7,241.7 862.7,225 867.2,191.8 870.2,220.5 873.9,188.7 877.8,204.8 881.4,199.9 885.4,199.3 888.4,193.9 892,215 895.4,193.3 898.4,188.7 902,178.1 905,178.8 909.6,206.9 913.2,213.8 916.5,195.7 919.6,196.9 923.4,175.4 926.7,179.1 930.4,155.4 934.2,175.6 937.3,183.4 940.6,159.9 944.2,163.5 948.1,153.8 951.2,128.7 955.1,119.1 957.8,156 961.7,195.3 965.4,165.9 969,176.2 972,173.2 976,188.3 979.6,180.2 983,188.3 986.5,194.4 993.6,271.9 997,264.4 1000.4,270.7 1004.3,275.7 1007.7,259.4 1011.1,243.1 1014.5,248.5 1018.3,271.9 1021.8,270.1 1025.4,255.5 1029.2,269.6 1032.6,267.3 1036.5,263.5 1039.4,254.9 1042.8,232.6 1045.8,198.1 1049.7,191.3 1053.1,200.4 1056.9,195 1060.3,236.7 1063.9,249.2 1067.1,267.3 1070.1,255.5 1074.2,251.5 1077.6,257.1 1081.4,259.9 1084.8,245.3 1088.7,215.8 1092.1,228.1 1095.5,191.3 1098.9,194.7 1102.7,223.8 1106.1,232.2 1109.5,214.7 1112.9,228.4 1116.3,238.6 1120,247.6 1123.4,246.1 1126.8,260.8 1130.6,268.5 1134,290.7 1137.4,282.8 1141.5,274.2 1144.9,274.4 1147.2,290.7 1151.8,338.6 1155.2,321.6 1158.6,342.6 1162.2,349.9 1165.6,362.4 1169,365.3 1172.9,355.6 1176.3,359.4 1180.2,355.6 1183.6,360.1 1187,348.8 1190.4,354 1193.8,340.8 1197.2,345.4 1200.8,351 1204.7,357.8 1208.1,367.6 1211.5,364.7 1214.9,361.7 1218.7,373 1222.1,364.2 1225.8,368.1 1229.2,401.6 1232.6,398.7 1236,402.1 1239.8,401.6 1243.2,403.9 1246.6,403.9 1250.5,372.1 1253.9,410.7 1257.5,411.6 1259.8,408 1262.7,408.7 1265.5,409.9 1268.4,414 1271.2,418.8 1275,440.5 1278.4,449.9 1282,441.4 1285.4,433.9 1288.8,439 1292,430.7 1295.8,425.9 1299.5,432.9 1302.9,427.3 1306.5,432.2 1310.3,422.5 1315.2,431" fill="none" stroke="#ea3943" stroke-width="1.65" stroke-linejoin="round" clip-path="url(#dn)"/>
<circle cx="54.6" cy="383.7" r="2.6" fill="#16c784" stroke="#9ff0cf" stroke-width="1"/>
<g class="yl" font-size="7.7" fill="#a1a7bb">
<text x="1337.4" y="76.2" textLength="22" lengthAdjust="spacingAndGlyphs">$150B</text>
<text x="1337.2" y="287.7" textLength="18.6" lengthAdjust="spacingAndGlyphs">$90B</text>
<text x="1337.2" y="499.8" textLength="19.2" lengthAdjust="spacingAndGlyphs">$30B</text>
</g>
<g class="xl" font-size="8.8" fill="#a1a7bb" text-anchor="middle"><text x="44.7" y="513.2" textLength="24.6" lengthAdjust="spacingAndGlyphs">25 Mar</text><text x="93.9" y="513.2" textLength="18.7" lengthAdjust="spacingAndGlyphs">8 Apr</text><text x="143.1" y="513.2" textLength="22.7" lengthAdjust="spacingAndGlyphs">22 Apr</text><text x="192.3" y="513.2" textLength="21.2" lengthAdjust="spacingAndGlyphs">6 May</text><text x="241.5" y="513.2" textLength="25.1" lengthAdjust="spacingAndGlyphs">20 May</text><text x="290.7" y="513.2" textLength="19.0" lengthAdjust="spacingAndGlyphs">3 Jun</text><text x="339.9" y="513.2" textLength="21.9" lengthAdjust="spacingAndGlyphs">17 Jun</text><text x="389.1" y="513.2" textLength="16.0" lengthAdjust="spacingAndGlyphs">1 Jul</text><text x="438.3" y="513.2" textLength="20.9" lengthAdjust="spacingAndGlyphs">15 Jul</text><text x="487.5" y="513.2" textLength="20.9" lengthAdjust="spacingAndGlyphs">29 Jul</text><text x="536.7" y="513.2" textLength="23.9" lengthAdjust="spacingAndGlyphs">12 Aug</text><text x="585.9" y="513.2" textLength="24.9" lengthAdjust="spacingAndGlyphs">26 Aug</text><text x="635.1" y="513.2" textLength="20.2" lengthAdjust="spacingAndGlyphs">9 Sep</text><text x="684.3" y="513.2" textLength="25.1" lengthAdjust="spacingAndGlyphs">23 Sep</text><text x="733.5" y="513.2" textLength="19.3" lengthAdjust="spacingAndGlyphs">7 Oct</text><text x="782.7" y="513.2" textLength="22.2" lengthAdjust="spacingAndGlyphs">21 Oct</text><text x="831.9" y="513.2" textLength="21.4" lengthAdjust="spacingAndGlyphs">4 Nov</text><text x="881.1" y="513.2" textLength="23.7" lengthAdjust="spacingAndGlyphs">18 Nov</text><text x="930.3" y="513.2" textLength="20.8" lengthAdjust="spacingAndGlyphs">2 Dec</text><text x="979.5" y="513.2" textLength="23.7" lengthAdjust="spacingAndGlyphs">16 Dec</text><text x="1028.7" y="513.2" textLength="25.1" lengthAdjust="spacingAndGlyphs">30 Dec</text><text x="1077.9" y="513.2" textLength="22.7" lengthAdjust="spacingAndGlyphs">13 Jan</text><text x="1127.1" y="513.2" textLength="22.7" lengthAdjust="spacingAndGlyphs">27 Jan</text><text x="1176.3" y="513.2" textLength="22.7" lengthAdjust="spacingAndGlyphs">10 Feb</text><text x="1225.5" y="513.2" textLength="23.7" lengthAdjust="spacingAndGlyphs">24 Feb</text><text x="1274.7" y="513.2" textLength="23.4" lengthAdjust="spacingAndGlyphs">10 Mar</text><text x="1323.9" y="513.2" textLength="24.6" lengthAdjust="spacingAndGlyphs">24 Mar</text></g>
<g opacity="0.09"><circle cx="1282" cy="491.8" r="2.8" fill="none" stroke="#a1a7bb" stroke-width="1"/><text x="1286.2" y="494.6" font-size="6.4" fill="#a1a7bb" font-weight="bold" textLength="44.5" lengthAdjust="spacingAndGlyphs">CoinMarketCap</text></g>
</svg>
<div class="title">Market Cap</div>
<div class="tabs">
<div class="tab" style="left:18.7px">24h</div>
<div class="tab" style="left:52px">7d</div>
<div class="tab" style="left:85px">30d</div>
<div class="tab on" style="left:117.6px">1y</div>
<div class="tab" style="left:148.2px">All</div>
</div>
<svg class="close" viewBox="0 0 11 11"><path d="M1.3 1.3L9.7 9.7M9.7 1.3L1.3 9.7" stroke="#a1a7bb" stroke-width="1.1" fill="none"/></svg>
<div class="dot" style="left:10.8px;top:38.8px;width:5.5px;height:5.5px;border-radius:45%;background:#16c784"></div>
<div class="leg" style="left:19px;top:37px">Market Cap</div>
<div class="dot" style="left:109.9px;top:39.6px;width:4.4px;height:4.4px;background:#263158"></div>
<div class="leg" style="left:116.8px;top:37px">Volume</div>
<div class="val" style="left:11px;top:50.6px">$48.68B</div>
<div class="tri" style="left:58.3px;top:56px"></div>
<div class="pct" style="left:67px;top:51.6px">9.23%</div>
<div class="val" style="left:109.2px;top:50.6px">$4.67B</div>
<div class="tri" style="left:149.5px;top:56px"></div>
<div class="pct" style="left:158px;top:51.6px">61.54%</div>
<div class="tip">
<div class="d">03/28/2024</div>
<div class="t">8:00:00 AM</div>
<div class="dot" style="left:13.8px;top:28.7px;width:6.2px;height:6.2px;background:#16c784"></div>
<div class="r" style="top:26.5px">Market Cap: &nbsp;<b>$62.09B</b></div>
<div class="dot" style="left:14.1px;top:38px;width:5.3px;height:5.3px;background:#283158"></div>
<div class="r" style="top:35.5px">Volume: &nbsp;<b>$10.23B</b></div>
</div>
</body></html>
